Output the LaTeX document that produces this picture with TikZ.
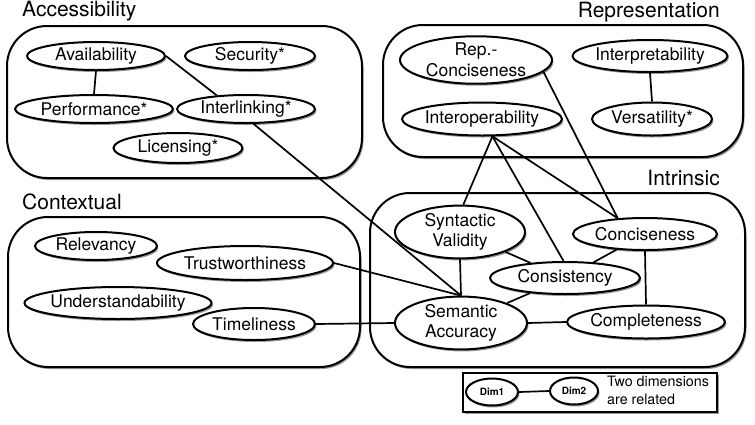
\documentclass[tikz,border=0pt]{standalone}
\usepackage{fontspec}
\setmainfont{TeX Gyre Heros}
\usetikzlibrary{shapes.geometric,shadows}
\pgfdeclarelayer{bg}
\pgfdeclarelayer{lines}
\pgfsetlayers{bg,lines,main}
\tikzset{
  dimshadow/.style={drop shadow={shadow xshift=1.5pt,shadow yshift=-2pt,opacity=.4,fill=black}},
  dim/.style={ellipse, draw, line width=2pt, fill=white, inner xsep=-12pt, inner ysep=0pt,
    font=\fontsize{17.5}{20.5}\selectfont, align=center, dimshadow},
  grp/.style={rectangle, draw, line width=2pt, rounded corners=40pt, fill=white, inner sep=0pt, dimshadow},
  grptitle/.style={font=\fontsize{21}{24}\selectfont, inner sep=0pt},
  rel/.style={line width=1.7pt},
  legdim/.style={ellipse, draw, line width=2pt, fill=white, inner sep=0pt,
    minimum height=27pt, font=\fontsize{10}{12}\selectfont\bfseries, dimshadow},
}
\begin{document}
\begin{tikzpicture}[x=1pt,y=-1pt]
\useasboundingbox (0,0) rectangle (755,424);

% group boxes
\begin{pgfonlayer}{bg}
\node[grp, minimum width=355pt, minimum height=152pt] (accbox) at (184.5,102) {};
\node[grp, minimum width=360pt, minimum height=132pt] (repbox) at (563,91) {};
\node[grp, minimum width=375pt, minimum height=174pt] (intbox) at (557.5,280) {};
\node[grp, minimum width=352pt, minimum height=150pt] (ctxbox) at (184,292) {};
\node[rectangle, draw, line width=2pt, fill=white, inner sep=0pt, minimum width=254pt, minimum height=39pt, dimshadow] (legbox) at (590,392.5) {};
\end{pgfonlayer}

% titles
\node[grptitle, anchor=west] (tacc) at (22,11) {Accessibility};
\node[grptitle, anchor=east] (trep) at (720,12) {Representation};
\node[grptitle, anchor=east] (tint) at (720,178) {Intrinsic};
\node[grptitle, anchor=west] (tctx) at (22,202) {Contextual};

% Accessibility
\node[dim, minimum width=138pt, minimum height=28pt] (avail) at (96,56) {Availability};
\node[dim, minimum width=130pt, minimum height=28pt] (secur) at (250,56) {Security*};
\node[dim, minimum width=158pt, minimum height=28pt] (perf) at (94,109) {Performance*};
\node[dim, minimum width=138pt, minimum height=28pt] (interl) at (246,109) {Interlinking*};
\node[dim, minimum width=129pt, minimum height=30pt] (licen) at (178,148) {Licensing*};

% Representation
\node[dim, minimum width=152pt, minimum height=46pt] (repconc) at (476,60) {Rep.-\\Conciseness};
\node[dim, minimum width=155pt, minimum height=32pt] (interp) at (650,56) {Interpretability};
\node[dim, minimum width=160pt, minimum height=33pt] (interop) at (482,119) {Interoperability};
\node[dim, minimum width=120pt, minimum height=33pt] (versat) at (652,119) {Versatility*};

% Intrinsic
\node[dim, minimum width=130pt, minimum height=50pt] (synt) at (460,232) {Syntactic\\Validity};
\node[dim, minimum width=144pt, minimum height=32pt] (concise) at (645,234) {Conciseness};
\node[dim, minimum width=150pt, minimum height=32pt] (consist) at (565,278) {Consistency};
\node[dim, minimum width=132pt, minimum height=50pt] (semacc) at (461,323) {Semantic\\Accuracy};
\node[dim, minimum width=158pt, minimum height=33pt] (complete) at (646,322) {Completeness};

% Contextual
\node[dim, minimum width=122pt, minimum height=28pt] (relev) at (96,246) {Relevancy};
\node[dim, minimum width=176pt, minimum height=34pt] (trust) at (245,263) {Trustworthiness};
\node[dim, minimum width=187pt, minimum height=32pt] (underst) at (118,303) {Understandability};
\node[dim, minimum width=122pt, minimum height=32pt] (timel) at (254,324) {Timeliness};

% Legend
\node[legdim, minimum width=52pt] (dimone) at (492,392) {Dim1};
\node[legdim, minimum width=48pt] (dimtwo) at (574,391) {Dim2};
\node[anchor=west, align=left, inner sep=0pt, font=\fontsize{14.3}{18}\selectfont] (legtext) at (607,390.5) {Two dimensions\\are related};

% connectors
\begin{pgfonlayer}{lines}
\draw[rel] (avail.south) -- (perf.north);
\draw[rel] (avail.east) -- (interl.155);
\draw[rel] (interl.-63) -- (semacc.north);
\draw[rel] (trust.east) -- (semacc.north);
\draw[rel] (timel.east) -- (semacc.west);
\draw[rel] (interop.-59) -- (synt.83);
\draw[rel] (interop.-59) -- (consist.95);
\draw[rel] (interop.-59) -- (concise.150);
\draw[rel] (repconc.-10) -- (concise.150);
\draw[rel] (synt.south) -- (semacc.north);
\draw[rel] (synt) -- (consist);
\draw[rel] (concise) -- (consist);
\draw[rel] (concise.south) -- (complete.north);
\draw[rel] (consist) -- (semacc);
\draw[rel] (semacc.east) -- (complete.west);
\draw[rel] (interp.south) -- (versat.north);
\draw[rel] (dimone.east) -- (dimtwo.west);
\end{pgfonlayer}
\end{tikzpicture}
\end{document}
